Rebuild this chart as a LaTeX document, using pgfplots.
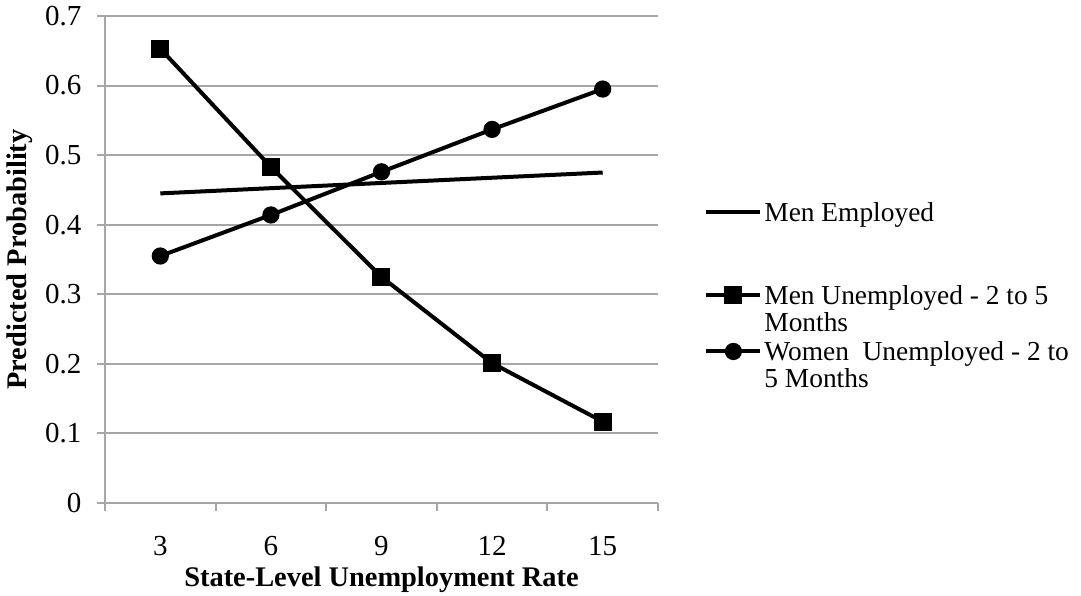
\documentclass[border=0pt]{standalone}
\usepackage{fontspec}
\setmainfont{Liberation Serif}
\usepackage{pgfplots}
\pgfplotsset{compat=1.18}
\definecolor{gridgray}{RGB}{166,166,166}
\begin{document}
\fontsize{13.7}{13.5}\selectfont
\begin{tikzpicture}
\begin{axis}[
  name=ax, scale only axis, width=276.5pt, height=243.5pt,
  xmin=0.5, xmax=5.5, ymin=0, ymax=0.7,
  axis x line*=bottom, axis y line*=left,
  axis line style={gridgray, line width=1pt},
  xtick={1,2,3,4,5}, xticklabels={3,6,9,12,15},
  minor xtick={0.5,1.5,2.5,3.5,4.5,5.5},
  ytick={0,0.1,0.2,0.3,0.4,0.5,0.6,0.7},
  yticklabel style={/pgf/number format/fixed, /pgf/number format/precision=1},
  /pgf/number format/assume math mode=true,
  tick label style={font=\fontsize{14.5}{16}\selectfont},
  tick align=outside,
  major x tick style={draw=none},
  minor x tick style={gridgray, line width=1pt},
  major y tick style={gridgray, line width=1pt},
  major tick length=4pt, minor tick length=4pt,
  ymajorgrids, major grid style={gridgray, line width=1pt},
  xticklabel style={yshift=-8pt},
  yticklabel style={xshift=-3pt},
  xlabel={\textbf{State-Level Unemployment Rate}},
  ylabel={\textbf{Predicted Probability}},
  xlabel style={at={(rel axis cs:0.5,0)}, anchor=center, yshift=-38.5pt, font=\fontsize{14.2}{16}\selectfont},
  ylabel style={at={(rel axis cs:0,0.5)}, anchor=center, yshift=42.5pt, font=\fontsize{14.2}{16}\selectfont},
  legend style={draw=none, fill=none, inner sep=0pt, at={(rel axis cs:1,1)}, xshift=23pt, yshift=-93pt, anchor=north west,
    font=\fontsize{13.7}{13.5}\selectfont, row sep=5pt,
    nodes={inner ysep=0pt, inner xsep=1pt, text depth=},
    cells={anchor=north west, align=left}},
  legend image code/.code={\draw[mark repeat=2,mark phase=2] plot coordinates {(0pt,-5pt)(13.5pt,-5pt)(27pt,-5pt)};},
]
\addplot[black, line width=2pt, mark=none] coordinates {(1,0.445)(2,0.4525)(3,0.46)(4,0.4675)(5,0.475)};
\addlegendentry{Men Employed\rule[-26.5pt]{0pt}{1pt}}
\addplot[black, line width=2pt, mark=square*, mark size=3.5pt, mark options={solid}] coordinates {(1,0.653)(2,0.483)(3,0.325)(4,0.201)(5,0.117)};
\addlegendentry{Men Unemployed - 2 to 5\\Months}
\addplot[black, line width=2pt, mark=*, mark size=3.3pt] coordinates {(1,0.355)(2,0.414)(3,0.476)(4,0.537)(5,0.595)};
\addlegendentry{Women\ \ Unemployed - 2 to\\5 Months}
\end{axis}
\pgfresetboundingbox
\path[use as bounding box] ([shift={(-52.5pt,-46.5pt)}]ax.south west) rectangle ([shift={(211.5pt,8pt)}]ax.north east);
\end{tikzpicture}
\end{document}
